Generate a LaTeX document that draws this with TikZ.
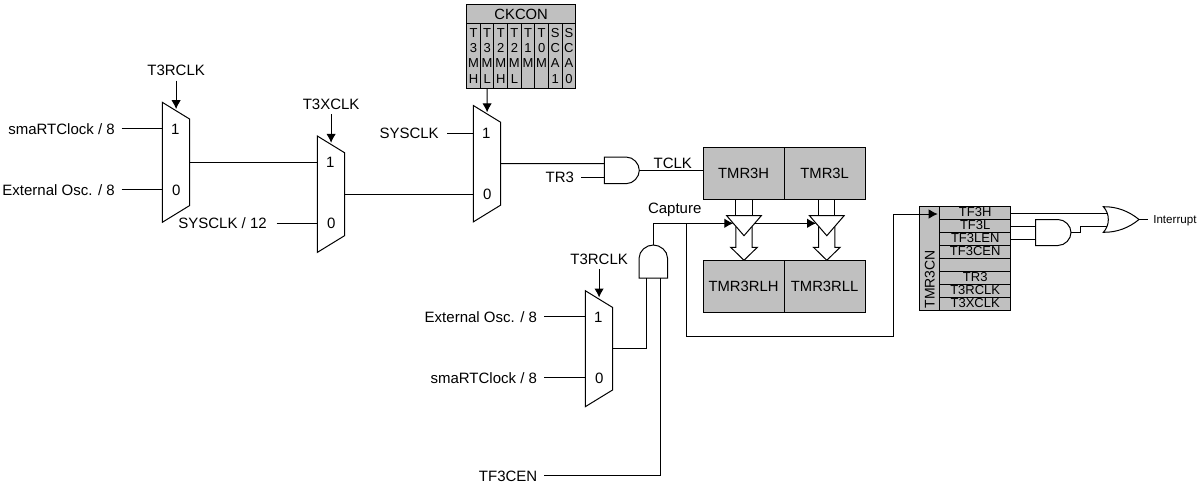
\documentclass[tikz,border=0pt]{standalone}
\usepackage{fontspec}
\usepackage{tikz}
\usetikzlibrary{arrows.meta, positioning}
\setmainfont{Liberation Sans}
\definecolor{regfill}{RGB}{192, 192, 192}

\begin{document}
\begin{tikzpicture}[
    x=1pt, y=-1pt,
    wire/.style={line width=1pt, black},
    sigwire/.style={wire, -{Latex[length=9pt, width=9.5pt]}},
    siglabel/.style={font=\fontsize{15}{17}\selectfont, inner xsep=7pt, inner ysep=5pt, outer sep=0pt, text height=10.6pt, text depth=0pt},
    smalllabel/.style={siglabel, font=\fontsize{11.6}{14}\selectfont, text height=8.3pt, inner xsep=5pt},
    regbox/.style={draw=black, line width=1pt, fill=regfill, inner sep=0pt, outer sep=0pt, font=\fontsize{14.8}{17}\selectfont},
    regrow/.style={regbox, minimum width=71pt, minimum height=13pt, font=\fontsize{13}{15}\selectfont, text height=9.3pt, text depth=1.5pt},
    ckcell/.style={regbox, anchor=north, minimum width=13.625pt, minimum height=64.5pt, font=\fontsize{13}{15.4}\selectfont, align=center},
    pics/mux/.style n args={2}{code={
        \draw[wire, fill=white] (0,0) -- (27.4,16.8) -- (27.4,#1-16.8) -- (0,#1) -- cycle;
        \coordinate (-in1) at (0,#2);
        \coordinate (-in0) at (0,#2+61);
        \coordinate (-out) at (27.4,#1/2);
        \coordinate (-sel) at (13.8,6.8);
        \node[siglabel, inner sep=0pt] (-one) at (13,#2) {1};
        \node[siglabel, inner sep=0pt] (-zero) at (14,#2+61) {0};
    }},
    pics/andgate/.style n args={2}{code={
        \draw[wire, fill=white] (0,-#2/2) -- (#1-13,-#2/2) .. controls (#1-5.85,-#2/2) and (#1,-#2/4) .. (#1,0)
            .. controls (#1,#2/4) and (#1-5.85,#2/2) .. (#1-13,#2/2) -- (0,#2/2) -- cycle;
        \coordinate (-in1) at (0,-#2/4);
        \coordinate (-in0) at (0,#2/4);
        \coordinate (-out) at (#1,0);
    }},
    pics/orgate/.style={code={
        \draw[wire, fill=white] (0,-12.8) .. controls (14,-13) and (26,-8) .. (35.7,0)
            .. controls (26,8) and (14,13) .. (0,12.8) .. controls (6.7,6) and (6.7,-6) .. cycle;
        \coordinate (-in1) at (4,-6.5);
        \coordinate (-in0) at (4,6.5);
        \coordinate (-out) at (35.7,0);
    }},
    pics/latchbus/.style={code={
        % shaft into the latch, then the hollow arrow below it
        \draw[wire] (-8.15,0) -- (-8.15,16.4) (8.15,0) -- (8.15,16.4);
        \draw[wire, fill=white] (-8.15,27) -- (-8.15,48) -- (-13.3,48) -- (0,61) -- (13.3,48) -- (8.15,48) -- (8.15,27);
        \draw[wire, fill=white] (-17.3,16.4) -- (17.3,16.4) -- (0,36.4) -- cycle;
        \coordinate (-in) at (-10.7,24);
        \coordinate (-out) at (10.7,24);
    }}
]
    \useasboundingbox (0,0) rectangle (1197,483);

    % Clock select multiplexers
    \pic (muxrclk) at (162.3,102.3) {mux={120}{26.4}};
    \pic (muxxclk) at (317.3,136) {mux={116.4}{26.3}};
    \pic (muxsys) at (473.3,105.5) {mux={116.4}{27.7}};
    \pic (muxcap) at (585.3,290.7) {mux={116}{26}};

    % Gates
    \pic (andclk) at (604.3,170.35) {andgate={35}{26.6}};
    \pic[rotate=90] (andcap) at (653.3,278) {andgate={33}{28.4}};
    \pic (andreg) at (1035.7,232.5) {andgate={35.3}{26}};
    \pic (orint) at (1103.3,219.5) {orgate};

    % Timer and reload registers
    \node[regbox, minimum width=80.7pt, minimum height=51.6pt] (tmr3h) at (743.65,173.5) {TMR3H};
    \node[regbox, minimum width=81.3pt, minimum height=51.6pt] (tmr3l) at (824.65,173.5) {TMR3L};
    \node[regbox, minimum width=81pt, minimum height=51.7pt] (tmr3rlh) at (743.5,286.15) {TMR3RLH};
    \node[regbox, minimum width=81.3pt, minimum height=51.7pt] (tmr3rll) at (824.65,286.15) {TMR3RLL};

    % Bus arrows with the capture latches
    \pic (bushigh) at (744,199.3) {latchbus};
    \pic (buslow) at (826.8,199.3) {latchbus};

    % CKCON register
    \node[regbox, minimum width=109pt, minimum height=19pt] (ckcon) at (521.2,14) {CKCON};
    \foreach \cellname/\celltext [count=\i from 0] in {t3mh/{T\\3\\M\\H}, t3ml/{T\\3\\M\\L}, t2mh/{T\\2\\M\\H}, t2ml/{T\\2\\M\\L}, t1m/{T\\1\\M\\~}, t0m/{T\\0\\M\\~}, sca1/{S\\C\\A\\1}, sca0/{S\\C\\A\\0}} {
        \node[ckcell] (\cellname) at ({473.5+13.625*\i},23.5) {\celltext};
    }

    % TMR3CN register
    \node[regbox, minimum width=20.4pt, minimum height=104pt] (tmr3cn) at (929.5,258.5) {};
    \node[siglabel, rotate=90, anchor=west, inner sep=0pt, font=\fontsize{14}{17}\selectfont] (tmr3cntext) at (929.3,308.5) {TMR3CN};
    \foreach \rowname/\rowtext [count=\i from 0] in {tf3h/TF3H, tf3l/TF3L, tf3len/TF3LEN, tf3cen/TF3CEN, tf3none/{}, tr3/TR3, t3rclk/T3RCLK, t3xclk/T3XCLK} {
        \node[regrow] (\rowname) at (975.2,{213+13*\i}) {\rowtext};
    }

    % Labels
    \node[siglabel, left=40.6pt of muxrclk-in1] (smartclka) {smaRTClock / 8};
    \node[siglabel, left=40.6pt of muxrclk-in0] (extosca) {External Osc. / 8};
    \node[siglabel, left=40.6pt of muxxclk-in0, inner xsep=10pt] (sysclkdiv) {SYSCLK / 12};
    \node[siglabel, left=26pt of muxsys-in1, inner xsep=8.6pt] (sysclk) {SYSCLK};
    \node[siglabel, left=23.3pt of andclk-in0] (tr3label) {TR3};
    \node[siglabel, left=41.3pt of muxcap-in1] (extoscb) {External Osc. / 8};
    \node[siglabel, left=41.3pt of muxcap-in0] (smartclkb) {smaRTClock / 8};
    \node[siglabel, anchor=east] (tf3cenlabel) at (544.3,475.7) {TF3CEN};
    \node[siglabel, above=28.5pt of muxrclk-sel] (t3rclka) {T3RCLK};
    \node[siglabel, above=28.5pt of muxxclk-sel] (t3xclklabel) {T3XCLK};
    \node[siglabel, above=28.5pt of muxcap-sel] (t3rclkb) {T3RCLK};
    \node[siglabel] (tclklabel) at (672.8,163.3) {TCLK};
    \node[siglabel] (capturelabel) at (674.7,208.3) {Capture};
    \node[smalllabel, right=9.3pt of orint-out] (intlabel) {Interrupt};

    % Mux inputs and selects
    \draw[wire] (smartclka.east) -- (muxrclk-in1);
    \draw[wire] (extosca.east) -- (muxrclk-in0);
    \draw[wire] (sysclkdiv.east) -- (muxxclk-in0);
    \draw[wire] (sysclk.east) -- (muxsys-in1);
    \draw[wire] (extoscb.east) -- (muxcap-in1);
    \draw[wire] (smartclkb.east) -- (muxcap-in0);
    \draw[sigwire] (t3rclka.south) -- (muxrclk-sel);
    \draw[sigwire] (t3xclklabel.south) -- (muxxclk-sel);
    \draw[sigwire] (t3rclkb.south) -- (muxcap-sel);
    \draw[sigwire] (t3ml.south) -- (muxsys-sel);

    % Clock path
    \draw[wire] (muxrclk-out) -- (muxxclk-in1);
    \draw[wire] (muxxclk-out) -- (muxsys-in0);
    \draw[wire] (muxsys-out) -- (andclk-in1);
    \draw[wire] (tr3label.east) -- (andclk-in0);
    \draw[wire] (andclk-out) -- (andclk-out -| tmr3h.west);

    % Capture path
    \coordinate (capbranch) at (686,223.3);
    \coordinate (busturn) at (893,336.7);
    \coordinate (tmr3cnin) at (937.7,214);
    \draw[wire] (muxcap-out) -| (andcap-in1);
    \draw[wire] (tf3cenlabel.east) -| (andcap-in0);
    \draw[sigwire] (andcap-out) |- (bushigh-in);
    \draw[sigwire] (bushigh-out) -- (buslow-in);
    \draw[sigwire] (capbranch) |- (busturn) |- (tmr3cnin);

    % Interrupt logic
    \coordinate (stepturn) at (1080.7,232.5);
    \draw[wire] (tf3h.east) -- (orint-in1);
    \draw[wire] (tf3l.east) -- (andreg-in1);
    \draw[wire] (tf3len.east) -- (andreg-in0);
    \draw[wire] (andreg-out) -- (stepturn) |- (orint-in0);
    \draw[wire] (orint-out) -- (intlabel.west);
\end{tikzpicture}
\end{document}
